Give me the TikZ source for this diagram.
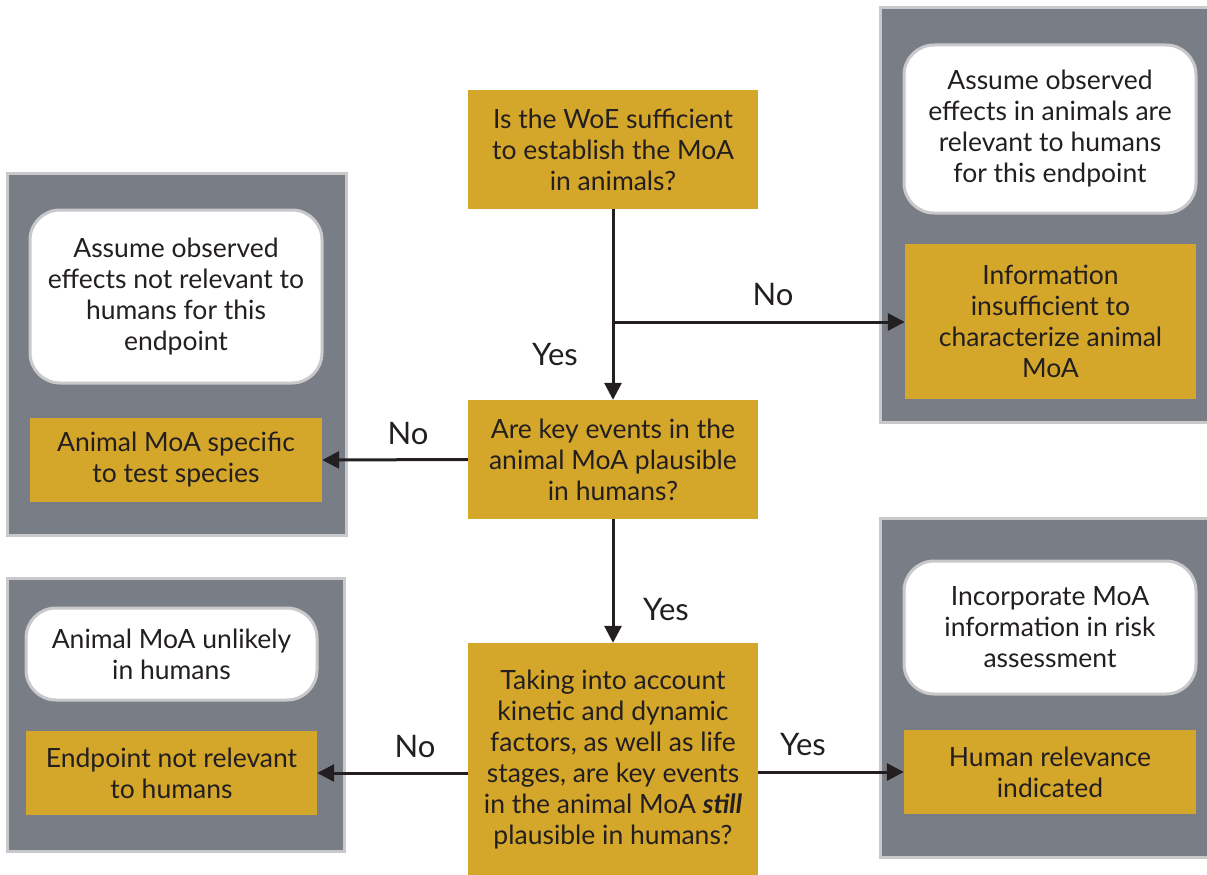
\documentclass[tikz,border=0pt]{standalone}
\usepackage{fontspec}
\setmainfont{Lato}
\usetikzlibrary{arrows.meta}
\definecolor{gold}{HTML}{D4A62A}
\definecolor{panelgray}{HTML}{797D85}
\definecolor{rimgray}{HTML}{C9C9CB}
\definecolor{ink}{HTML}{231F20}
\tikzset{
  txt/.style={font=\fontsize{26.5}{31}\selectfont, text=ink, align=center, inner sep=0pt},
  panel/.style={fill=panelgray, draw=rimgray, line width=3pt, inner sep=0pt},
  goldbox/.style={fill=gold, draw=none, inner sep=0pt, txt},
  whitebox/.style={fill=white, draw=rimgray, line width=3pt, rounded corners=30pt, inner sep=0pt, txt},
  flow/.style={draw=ink, line width=3pt, -{Triangle[length=17pt,width=17pt]}},
  lbl/.style={txt, font=\fontsize{31}{36}\selectfont}
}
\begin{document}
\begin{tikzpicture}[x=1pt,y=-1pt]
\useasboundingbox (0,0) rectangle (1207,875);

% grey panels
\node[panel, minimum width=339pt, minimum height=362pt] (p1) at (176.5,354) {};
\node[panel, minimum width=330pt, minimum height=414pt] (p2) at (1045,215) {};
\node[panel, minimum width=337pt, minimum height=273pt] (p3) at (175.5,714.5) {};
\node[panel, minimum width=330pt, minimum height=339pt] (p4) at (1045,687.5) {};

% outcome boxes inside the panels
\node[whitebox, minimum width=292pt, minimum height=173pt] (w1) at (176,296.5)
  {Assume observed\\effects not relevant to\\humans for this\\endpoint};
\node[goldbox, minimum width=292pt, minimum height=84pt] (g1) at (176,460)
  {Animal MoA specific\\to test species};

\node[whitebox, minimum width=292pt, minimum height=168pt] (w2) at (1050,129)
  {Assume observed\\effects in animals are\\relevant to humans\\for this endpoint};
\node[goldbox, minimum width=291pt, minimum height=155pt] (g2) at (1050.5,321.5)
  {Information\\insufficient to\\characterize animal\\MoA};

\node[whitebox, minimum width=291pt, minimum height=92pt] (w3) at (171.5,654)
  {Animal MoA unlikely\\in humans};
\node[goldbox, minimum width=291pt, minimum height=84pt] (g3) at (171.5,773)
  {Endpoint not relevant\\to humans};

\node[whitebox, minimum width=292pt, minimum height=133pt] (w4) at (1050,627.5)
  {Incorporate MoA\\information in risk\\assessment};
\node[goldbox, minimum width=292pt, minimum height=84pt] (g4) at (1050,772)
  {Human relevance\\indicated};

% decision boxes
\node[goldbox, minimum width=290pt, minimum height=119pt] (q1) at (613,149.5)
  {Is the WoE sufficient\\to establish the MoA\\in animals?};
\node[goldbox, minimum width=290pt, minimum height=119pt] (q2) at (613,459.5)
  {Are key events in the\\animal MoA plausible\\in humans?};
\node[goldbox, minimum width=290pt, minimum height=233pt] (q3) at (613,759.5)
  {Taking into account\\kinetic and dynamic\\factors, as well as life\\stages, are key events\\in the animal MoA \textbf{\textit{still}}\\plausible in humans?};

% connectors
\coordinate (split) at (613,322);
\draw[flow] (q1.south) -- (q2.north);
\draw[flow] (split) -- (g2.west |- split);
\draw[flow] (q2.west) -- (g1.east);
\draw[flow] (q2.south) -- (q3.north);
\draw[flow] (q3.west |- g3) -- (g3.east);
\draw[flow] (q3.east |- g4) -- (g4.west);

% branch labels
\node[lbl] (l1) at (773,294) {No};
\node[lbl] (l2) at (555,355) {Yes};
\node[lbl] (l3) at (408,433) {No};
\node[lbl] (l4) at (666,610) {Yes};
\node[lbl] (l5) at (415,746) {No};
\node[lbl] (l6) at (803,745) {Yes};
\end{tikzpicture}
\end{document}
